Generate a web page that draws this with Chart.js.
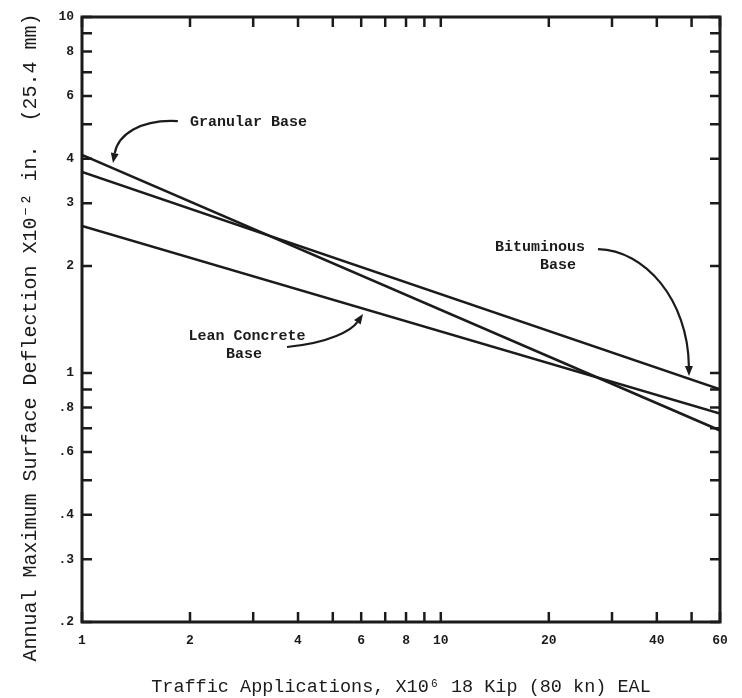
<!DOCTYPE html>
<html><head><meta charset="utf-8">
<script src="https://cdn.jsdelivr.net/npm/chart.js@4.4.1/dist/chart.umd.min.js"></script>
<style>html,body{margin:0;padding:0;background:#fff;} canvas{display:block;}</style>
</head><body>
<canvas id="c" width="742" height="698"></canvas>
<script>
// ---- data ----
const trafficApplications = [1, 60];          // x10^6 18 kip EAL
const granularBase = [4.1, 0.69];             // x10^-2 in.
const bituminousBase = [3.67, 0.90];
const leanConcreteBase = [2.59, 0.77];

const xTickValues = [1,2,3,4,5,6,7,8,9,10,20,30,40,50,60];
const xTickLabels = ['1','2','','4','','6','','8','','10','20','','40','','60'];
const yTickValues = [0.2,0.3,0.4,0.5,0.6,0.7,0.8,0.9,1,2,3,4,5,6,7,8,9,10];
const yTickLabels = ['.2','.3','.4','','.6','','.8','','1','2','3','4','','6','','8','','10'];

// annotation anchors in data coordinates
const annotationTexts = [
  {text:'Granular Base', x:2.0, y:5.07, align:'left'},
  {text:'Bituminous', x:14.16, y:2.26, align:'left'},
  {text:'Base', x:18.9, y:2.012, align:'left'},
  {text:'Lean Concrete', x:2.884, y:1.271, align:'center'},
  {text:'Base', x:2.828, y:1.131, align:'center'}
];
const annotationArrows = [
  {from:[1.85,5.1], c1:[1.451,5.17], c2:[1.26,4.66], to:[1.22,3.89]},
  {from:[27.42,2.23], c1:[37.07,2.217], c2:[48.87,1.604], to:[49.18,0.981]},
  {from:[3.727,1.184], c1:[4.91,1.215], c2:[5.655,1.321], to:[6.07,1.466]}
];

const toPts = ys => trafficApplications.map((x,i)=>({x:x, y:ys[i]}));
const INK = '#1b1b1b';
const MONO = "'Liberation Mono', 'DejaVu Sans Mono', monospace";

const framePlugin = {
  id:'frameAndAnnotations',
  afterDatasetsDraw(chart){
    const {ctx, chartArea:a, scales:{x, y}} = chart;
    ctx.save();
    ctx.strokeStyle = INK;
    ctx.lineCap = 'butt';
    // frame
    ctx.lineWidth = 3;
    ctx.strokeRect(a.left, a.top, a.right-a.left, a.bottom-a.top);
    // inward ticks
    ctx.lineWidth = 2.5;
    const L = 10;
    ctx.beginPath();
    y.ticks.forEach(t=>{
      const py = y.getPixelForValue(t.value);
      ctx.moveTo(a.left, py); ctx.lineTo(a.left+L, py);
      ctx.moveTo(a.right, py); ctx.lineTo(a.right-L, py);
    });
    x.ticks.forEach(t=>{
      const px = x.getPixelForValue(t.value);
      ctx.moveTo(px, a.bottom); ctx.lineTo(px, a.bottom-L);
      ctx.moveTo(px, a.top); ctx.lineTo(px, a.top+L);
    });
    ctx.stroke();
    // annotation texts
    ctx.fillStyle = INK;
    ctx.font = "bold 15px " + MONO;
    ctx.textBaseline = 'middle';
    annotationTexts.forEach(t=>{
      ctx.textAlign = t.align;
      ctx.fillText(t.text, x.getPixelForValue(t.x), y.getPixelForValue(t.y));
    });
    // arrows
    ctx.lineWidth = 2.2;
    annotationArrows.forEach(ar=>{
      const P = p => [x.getPixelForValue(p[0]), y.getPixelForValue(p[1])];
      const s = P(ar.from), c1 = P(ar.c1), c2 = P(ar.c2), e = P(ar.to);
      const ang = Math.atan2(e[1]-c2[1], e[0]-c2[0]);
      const hl = 10, hw = 4;
      const bx = e[0]-hl*Math.cos(ang), by = e[1]-hl*Math.sin(ang);
      ctx.beginPath();
      ctx.moveTo(s[0], s[1]);
      ctx.bezierCurveTo(c1[0], c1[1], c2[0], c2[1], bx, by);
      ctx.stroke();
      ctx.beginPath();
      ctx.moveTo(e[0], e[1]);
      ctx.lineTo(bx + hw*Math.sin(ang), by - hw*Math.cos(ang));
      ctx.lineTo(bx - hw*Math.sin(ang), by + hw*Math.cos(ang));
      ctx.closePath();
      ctx.fill();
    });
    ctx.restore();
  }
};

const lineStyle = {borderColor:INK, borderWidth:2.5, pointRadius:0, tension:0, fill:false};

new Chart(document.getElementById('c'), {
  type:'line',
  data:{
    datasets:[
      Object.assign({label:'Granular Base', data:toPts(granularBase)}, lineStyle),
      Object.assign({label:'Bituminous Base', data:toPts(bituminousBase)}, lineStyle),
      Object.assign({label:'Lean Concrete Base', data:toPts(leanConcreteBase)}, lineStyle)
    ]
  },
  options:{
    responsive:false,
    animation:false,
    devicePixelRatio:1,
    layout:{padding:{top:17, right:22, left:0, bottom:0}},
    plugins:{legend:{display:false}, tooltip:{enabled:false}},
    scales:{
      x:{
        type:'logarithmic', min:1, max:60, position:'bottom',
        grid:{display:false, drawTicks:false},
        border:{display:false},
        afterBuildTicks: s => { s.ticks = xTickValues.map(v=>({value:v})); },
        afterFit: s => { s.height = 76; },
        ticks:{
          autoSkip:false, maxRotation:0, padding:11, color:INK,
          font:{family:MONO, size:13, weight:'bold'},
          callback:(v)=>{ const i = xTickValues.indexOf(v); return i>=0 ? xTickLabels[i] : ''; }
        },
        title:{display:true, text:'Traffic Applications, X10\u2076 18 Kip (80 kn) EAL', color:INK,
          font:{family:MONO, size:18.5, lineHeight:1.2}, padding:{top:0, bottom:0}}
      },
      y:{
        type:'logarithmic', min:0.2, max:10, position:'left',
        grid:{display:false, drawTicks:false},
        border:{display:false},
        afterBuildTicks: s => { s.ticks = yTickValues.map(v=>({value:v})); },
        afterFit: s => { s.width = 82; },
        ticks:{
          autoSkip:false, padding:8, color:INK,
          font:{family:MONO, size:13, weight:'bold'},
          callback:(v)=>{ const i = yTickValues.indexOf(v); return i>=0 ? yTickLabels[i] : ''; }
        },
        title:{display:true, text:'Annual Maximum Surface Deflection X10\u207B\u00B2 in.  (25.4 mm)   ', color:INK,
          font:{family:MONO, size:20, lineHeight:1.2}, padding:{top:19, bottom:0}}
      }
    }
  },
  plugins:[framePlugin]
});
</script>
</body></html>
